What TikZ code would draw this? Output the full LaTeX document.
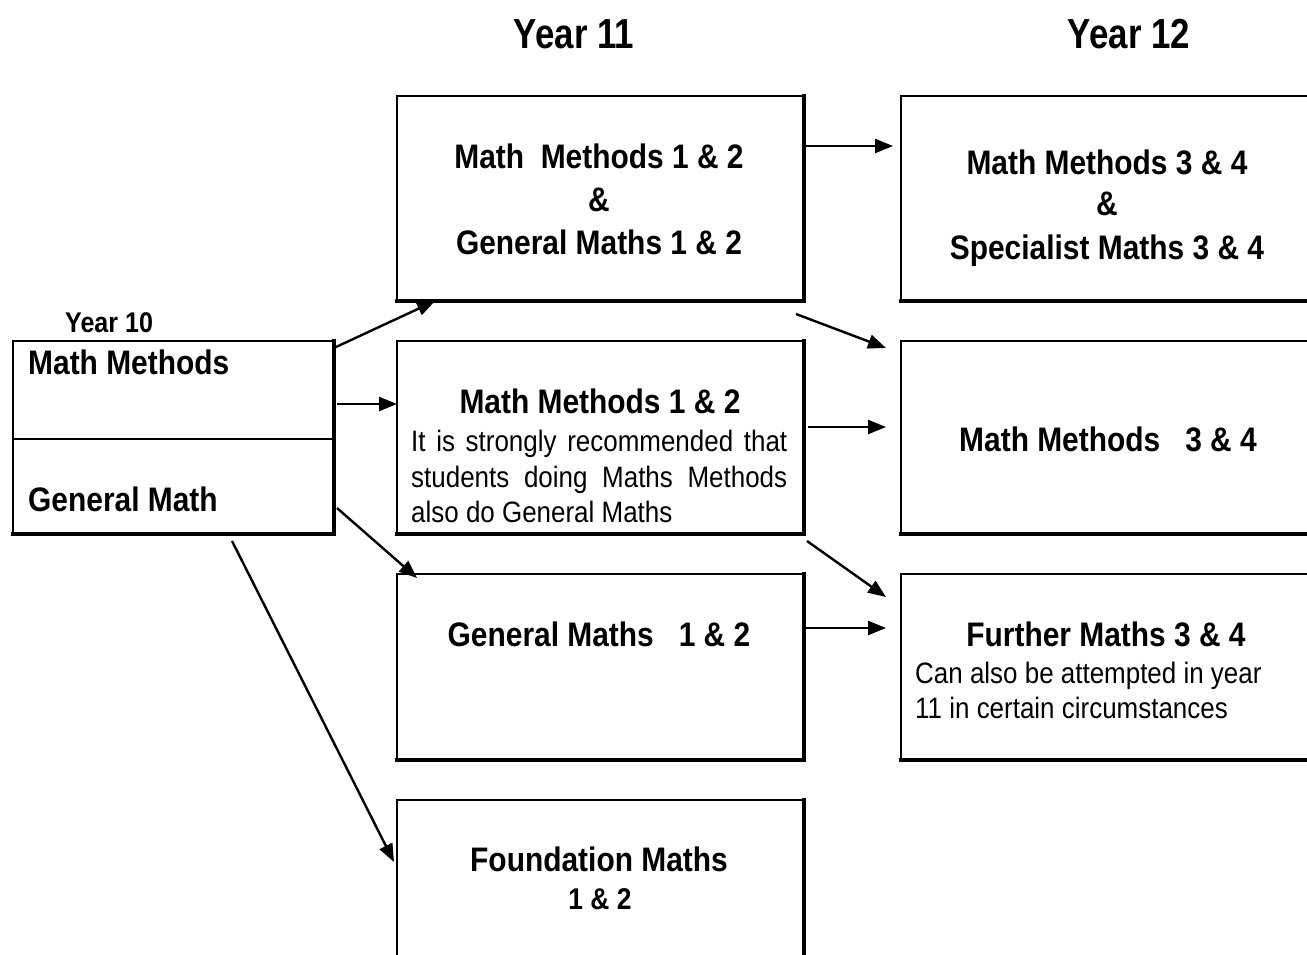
\documentclass[tikz,border=0pt]{standalone}
\usepackage{fontspec}
\setmainfont{Liberation Sans}[FakeStretch=0.88]
\newfontfamily\yearfamily{Liberation Sans}[FakeStretch=0.83]
\usetikzlibrary{arrows.meta,calc}

\tikzset{
  course/.style={draw, line width=2.4pt, rectangle, outer sep=0pt, inner sep=0pt,
                 anchor=north west},
  heavyedge/.style={line width=4.5pt, line cap=rect},
  flow/.style={line width=2.4pt, -{Triangle[length=18pt,width=14pt]}},
  yeartitle/.style={font=\yearfamily\fontsize{42}{48}\selectfont\bfseries,
                    inner sep=0pt, anchor=base},
  yearten/.style={font=\fontsize{28.5}{32}\selectfont\bfseries, inner sep=0pt,
                  anchor=base west},
  title/.style={font=\fontsize{34}{40}\selectfont\bfseries, inner sep=0pt,
                anchor=base},
  titleleft/.style={title, anchor=base west},
  note/.style={font=\fontsize{29.5}{34}\selectfont, inner sep=0pt,
               anchor=base west},
}

\begin{document}
\begin{tikzpicture}[x=1pt, y=-1pt]
  \useasboundingbox (0,0) rectangle (1307,954);
  \clip (0,0) rectangle (1307,954);

  % column headings
  \node[yeartitle] (h11) at (574,48) {Year 11};
  \node[yeartitle] (h12) at (1129,48) {Year 12};

  % Year 10 box
  \node[course, minimum width=320pt, minimum height=192pt] (y10) at (13,341) {};
  \draw[line width=2.4pt] ($(y10.north west)+(0,98)$) -- ($(y10.north east)+(0,98)$);
  \node[yearten] (h10) at (65,332) {Year 10};
  \node[titleleft] (t10a) at (28,374) {Math Methods};
  \node[titleleft] (t10b) at (28,511) {General Math};

  % Year 11 boxes
  \node[course, minimum width=406pt, minimum height=204pt] (a1) at (397,96) {};
  \node[course, minimum width=406pt, minimum height=192pt] (a2) at (397,341) {};
  \node[course, minimum width=406pt, minimum height=185pt] (a3) at (397,574) {};
  \node[course, minimum width=406pt, minimum height=200pt] (a4) at (397,800) {};

  % Year 12 boxes
  \node[course, minimum width=430pt, minimum height=204pt] (b1) at (901,96) {};
  \node[course, minimum width=430pt, minimum height=192pt] (b2) at (901,341) {};
  \node[course, minimum width=430pt, minimum height=185pt] (b3) at (901,574) {};

  % heavier right and bottom edges
  \foreach \n in {y10,a1,a2,a3,a4,b1,b2,b3}
    \draw[heavyedge] ($(\n.north east)+(1,0)$) -- ($(\n.south east)+(1,1)$)
                     -- ($(\n.south west)+(0,1)$);

  % Year 11 texts
  \node[title] (a1l1) at (599,168) {Math~ Methods 1 \& 2};
  \node[title] (a1l2) at (599,211) {\&};
  \node[title] (a1l3) at (599,254) {General Maths 1 \& 2};

  \node[title] (a2l1) at (600,413) {Math Methods 1 \& 2};
  \node[note] (a2n1) at (411,451) {\makebox[376pt][s]{It is strongly recommended that}};
  \node[note] (a2n2) at (411,487) {\makebox[376pt][s]{students doing Maths Methods}};
  \node[note] (a2n3) at (411,522) {also do General Maths};

  \node[title] (a3l1) at (599,646) {General Maths~~ 1 \& 2};

  \node[title] (a4l1) at (599,871) {Foundation Maths};
  \node[title, font=\fontsize{30}{34}\selectfont\bfseries] (a4l2) at (600,909) {1 \& 2};

  % Year 12 texts
  \node[title] (b1l1) at (1107,174) {Math Methods 3 \& 4};
  \node[title] (b1l2) at (1107,215) {\&};
  \node[title] (b1l3) at (1107,259) {Specialist Maths 3 \& 4};

  \node[title] (b2l1) at (1108,451) {Math Methods~~ 3 \& 4};

  \node[title] (b3l1) at (1106,646) {Further Maths 3 \& 4};
  \node[note] (b3n1) at (915,683) {Can also be attempted in year};
  \node[note] (b3n2) at (915,718) {11 in certain circumstances};

  % pathways
  \draw[flow] ($(y10.north east)+(3,6)$) -- ($(a1.south west)+(38,1)$);
  \draw[flow] ($(y10.north east)+(4,63)$) -- ($(a2.north west)+(0,63)$);
  \draw[flow] ($(y10.south east)+(4,-25)$) -- ($(a3.north west)+(20,4)$);
  \draw[flow] ($(y10.south west)+(219,8)$) -- ($(a4.north west)+(-3,62)$);

  \draw[flow] ($(a1.north east)+(3,50)$) -- ($(b1.north west)+(-8,50)$);
  \draw[flow] ($(a1.south east)+(-7,14)$) -- ($(b2.north west)+(-15,7)$);
  \draw[flow] ($(a2.north east)+(5,86)$) -- ($(b2.north west)+(-15,86)$);
  \draw[flow] ($(a2.south east)+(4,8)$) -- ($(b3.north west)+(-15,23)$);
  \draw[flow] ($(a3.north east)+(3,54)$) -- ($(b3.north west)+(-15,54)$);
\end{tikzpicture}
\end{document}
